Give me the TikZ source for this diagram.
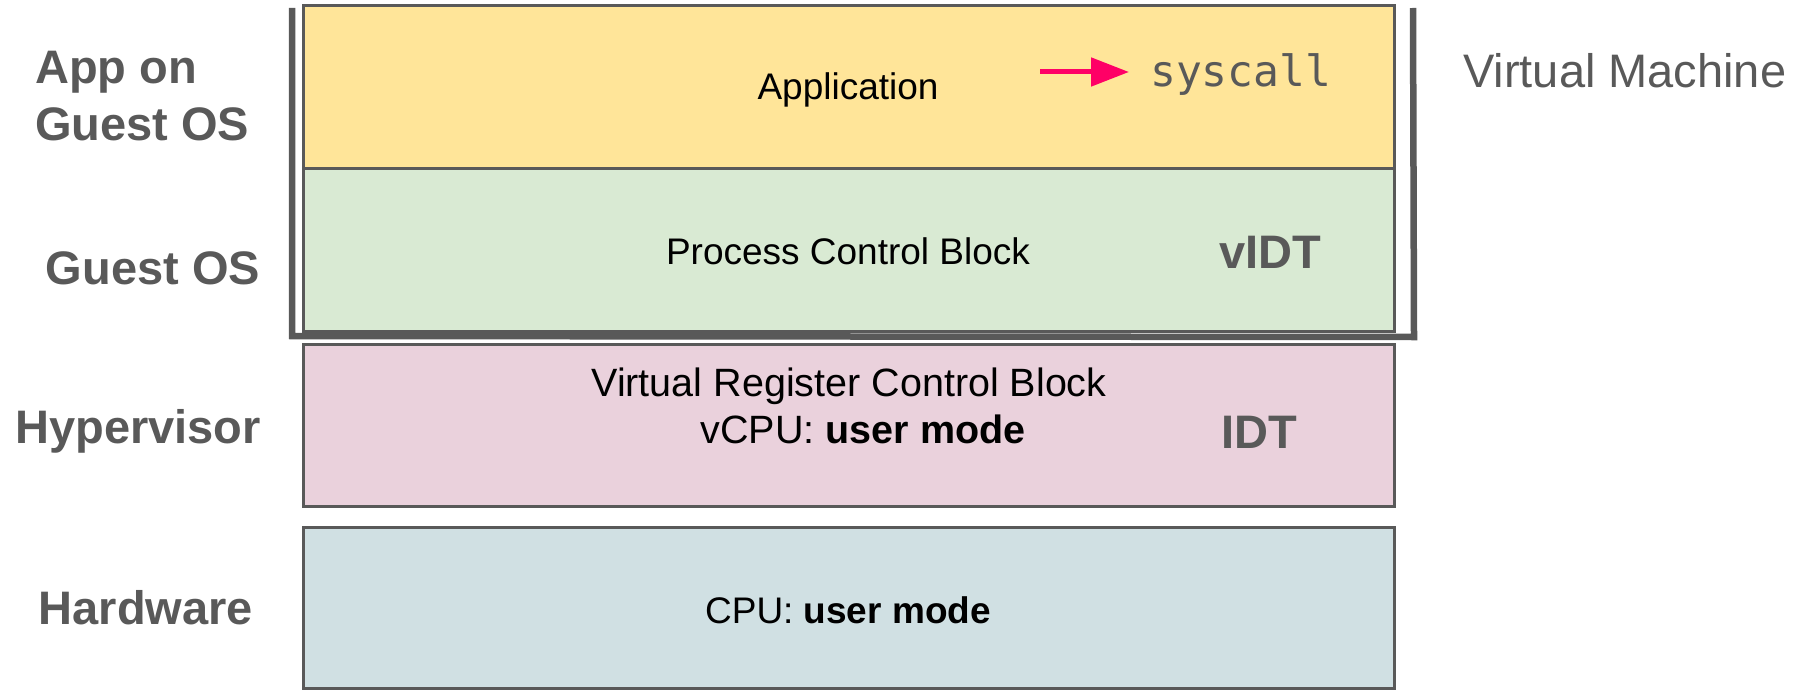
\documentclass[tikz,border=0pt]{standalone}
\usepackage{fontspec}
\setmainfont{Liberation Sans}
\setmonofont{DejaVu Sans Mono}
\usetikzlibrary{arrows.meta}
\definecolor{edge}{HTML}{595959}
\definecolor{appfill}{HTML}{FFE599}
\definecolor{osfill}{HTML}{D9EAD3}
\definecolor{hvfill}{HTML}{EAD1DC}
\definecolor{hwfill}{HTML}{D0E0E3}
\definecolor{hot}{HTML}{FF0066}
\begin{document}
\begin{tikzpicture}[x=1pt,y=-1pt,
  layer/.style={draw=edge, line width=3pt, minimum width=1091pt, minimum height=162pt, inner sep=0pt, outer sep=0pt},
  side/.style={font=\fontsize{47}{56}\selectfont\bfseries, text=edge, anchor=base, inner sep=0pt},
  inner/.style={font=\fontsize{37}{44}\selectfont, text=black, anchor=base, inner sep=0pt},
  innerbig/.style={inner, font=\fontsize{39.5}{47}\selectfont},
  vmline/.style={draw=edge, line width=6.5pt},
  callarrow/.style={draw=hot, line width=5pt, -{Triangle[length=38pt,width=28pt]}}]

\useasboundingbox (0,0) rectangle (1804,690);

% virtual machine bracket
\coordinate (vmtl) at (292,8);
\coordinate (vmbl) at (292,336);
\coordinate (vmbr) at (1414,337);
\coordinate (vmtr) at (1413,8);
\draw[vmline] (vmtl) -- (vmbl) -- (vmbr) -- (vmtr);

% layers
\node[layer, fill=appfill] (app) at (849,87) {};
\node[layer, fill=osfill, minimum height=163pt] (os) at (849,249.5) {};
\node[layer, fill=hvfill] (hv) at (849,425) {};
\node[layer, fill=hwfill, minimum height=161pt] (hw) at (849,607.5) {};

% side labels
\node[side, anchor=base west] (lapp1) at (35,84) {App on};
\node[side, anchor=base west] (lapp2) at (35,141) {Guest OS};
\node[side] (los) at (153,284) {Guest OS};
\node[side] (lhv) at (138,443) {Hypervisor};
\node[side] (lhw) at (146,624) {Hardware};
\node[font=\fontsize{47}{56}\selectfont, text=edge, anchor=base west, inner sep=0pt] (vm) at (1463,88) {Virtual Machine};

% inner texts
\node[inner] (tapp) at (848,100) {Application};
\node[font=\fontsize{43}{50}\selectfont\ttfamily, text=edge, anchor=base west, inner sep=0pt] (sys) at (1150,87) {syscall};
\coordinate (arrs) at (1040,72);
\draw[callarrow, shorten >=21pt] (arrs) -- (arrs -| sys.west);

\node[inner] (tpcb) at (848,264) {Process Control Block};
\node[side] (vidt) at (1270,268) {vIDT};

\node[innerbig] (tvrcb) at (849,396) {Virtual Register Control Block};
\node[innerbig] (tvcpu) at (863,443) {vCPU: \textbf{user mode}};
\node[side] (idt) at (1259,448) {IDT};

\node[inner] (tcpu) at (848,623) {CPU: \textbf{user mode}};
\end{tikzpicture}
\end{document}
